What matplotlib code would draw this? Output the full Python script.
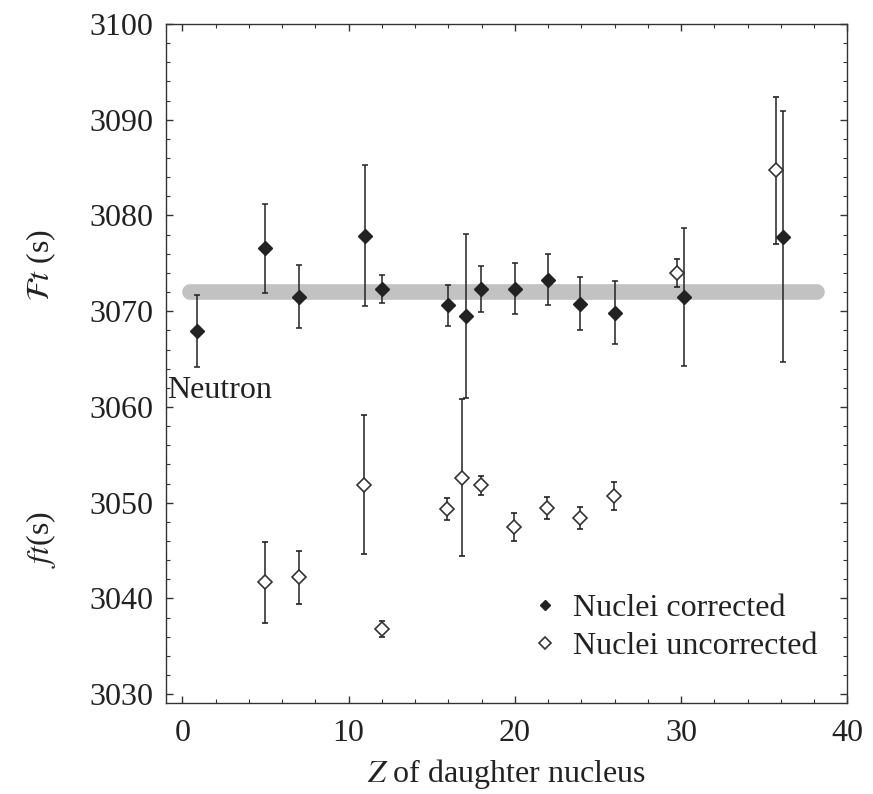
import matplotlib
matplotlib.use("Agg")
import matplotlib.pyplot as plt
from matplotlib.ticker import MultipleLocator

# ---------------------------------------------------------------------------
# Data
# ---------------------------------------------------------------------------

# Nuclei corrected (filled diamonds), first one is the neutron
z_corr = [0.9, 4.95, 7.0, 11.0, 12.0, 16.0, 17.05, 17.95, 20.0, 22.0,
          23.9, 26.0, 30.15, 36.15]
ft_corr = [3067.9, 3076.6, 3071.5, 3077.9, 3072.35, 3070.6, 3069.5, 3072.35,
           3072.35, 3073.3, 3070.8, 3069.85, 3071.5, 3077.8]
err_corr = [3.75, 4.65, 3.3, 7.35, 1.45, 2.15, 8.6, 2.4, 2.65, 2.65,
            2.8, 3.3, 7.2, 13.1]

# Nuclei uncorrected (open diamonds)
z_unc = [4.95, 7.0, 10.95, 12.0, 15.95, 16.8, 17.95, 19.95, 21.95, 23.95,
         25.95, 29.75, 35.7]
ft_unc = [3041.7, 3042.2, 3051.9, 3036.8, 3049.3, 3052.6, 3051.8, 3047.5,
          3049.5, 3048.4, 3050.7, 3074.0, 3084.7]
err_unc = [4.25, 2.75, 7.25, 0.85, 1.15, 8.2, 1.0, 1.45, 1.15, 1.15,
           1.45, 1.5, 7.7]

# average Ft band
band_z = [0.45, 38.2]
band_ft = [3072.0, 3072.0]

X_TICKS = [0, 10, 20, 30, 40]
Y_TICKS = [3030, 3040, 3050, 3060, 3070, 3080, 3090, 3100]

INK = "#222222"

plt.rcParams["font.family"] = ["Liberation Serif", "DejaVu Serif"]
plt.rcParams["mathtext.fontset"] = "stix"

fig = plt.figure(figsize=(8.73, 7.94), dpi=100)
ax = fig.add_axes([0.1898, 0.1142, 0.7808, 0.8556])

ax.plot(band_z, band_ft, color="#c2c2c2", linewidth=11.3,
        solid_capstyle="round", zorder=1)

ax.errorbar(z_corr, ft_corr, yerr=err_corr, fmt="D", color=INK,
            markerfacecolor=INK, markeredgecolor=INK, markersize=7,
            ecolor=INK, elinewidth=1.1, capsize=2.5, capthick=1.1,
            zorder=3, label="Nuclei corrected")
ax.errorbar(z_unc, ft_unc, yerr=err_unc, fmt="D", color=INK,
            markerfacecolor="white", markeredgecolor="#333333",
            markeredgewidth=1.2, markersize=7.5,
            ecolor=INK, elinewidth=1.1, capsize=2.5, capthick=1.1,
            zorder=3, label="Nuclei uncorrected")

ax.text(-0.9, 3060.9, "Neutron", fontsize=23, color=INK,
        ha="left", va="baseline")

ax.set_xlim(-1, 40)
ax.set_ylim(3029.05, 3100)
ax.set_xticks(X_TICKS)
ax.set_yticks(Y_TICKS)
ax.xaxis.set_minor_locator(MultipleLocator(2))
ax.yaxis.set_minor_locator(MultipleLocator(2))
ax.tick_params(which="both", direction="in", top=True, right=True,
               colors="#333333", labelcolor=INK, labelsize=23)
ax.tick_params(which="major", length=5, width=1.0)
ax.tick_params(which="minor", length=3, width=0.8)
ax.tick_params(axis="x", pad=11)
ax.tick_params(axis="y", pad=9)
for sp in ax.spines.values():
    sp.set_color("#333333")
    sp.set_linewidth(1.0)

ax.set_xlabel(r"$Z$ of daughter nucleus", fontsize=23, color=INK, labelpad=7)

# two stacked y labels
fig.text(0.047, 1 - 265 / 794, r"$\mathcal{F}t$ (s)", rotation=90,
         fontsize=23, color=INK, ha="center", va="center")
fig.text(0.047, 1 - 540 / 794, r"$ft$(s)", rotation=90,
         fontsize=23, color=INK, ha="center", va="center")

handles, labels = ax.get_legend_handles_labels()
handles = [h[0] for h in handles]
leg = ax.legend(handles, labels, loc="center left",
                bbox_to_anchor=(0.535, 0.112), frameon=False,
                fontsize=23, markerscale=0.75, handlelength=0.9,
                handletextpad=0.45, labelspacing=0.26, borderpad=0,
                borderaxespad=0)
for t in leg.get_texts():
    t.set_color(INK)

fig.savefig("out.png", dpi=100)
